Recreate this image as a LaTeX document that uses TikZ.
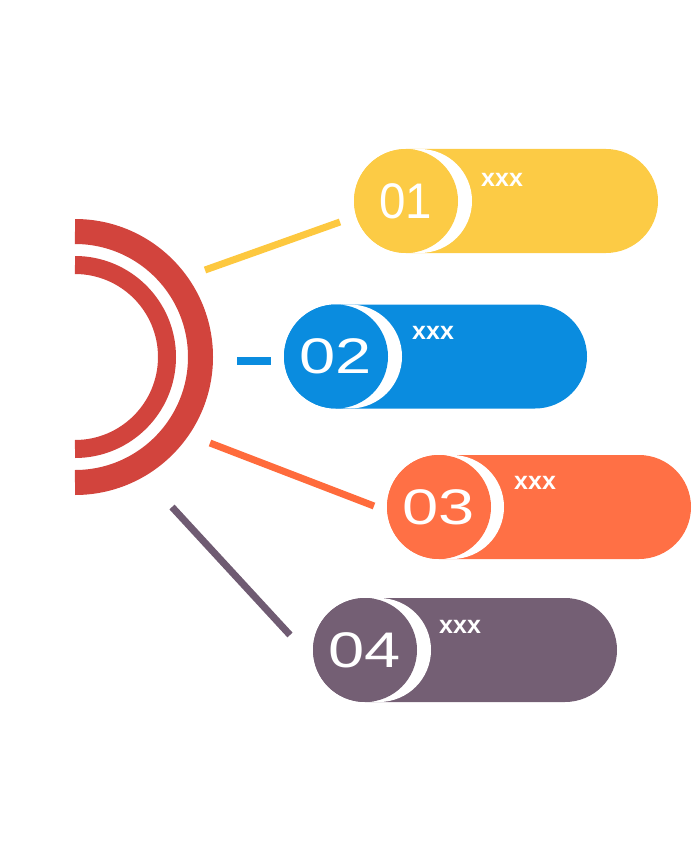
\documentclass[tikz,border=0pt]{standalone}
\usepackage{fontspec}
\setmainfont{Liberation Sans}
\definecolor{cyel}{HTML}{FCCB45}
\definecolor{cblue}{HTML}{0A8CDF}
\definecolor{corange}{HTML}{FF7045}
\definecolor{cpurple}{HTML}{745F74}
\definecolor{cred}{HTML}{D2443D}
\definecolor{lyel}{HTML}{FDC83F}
\definecolor{lorange}{HTML}{FF6B3C}
\definecolor{lpurple}{HTML}{6F5B72}
\tikzset{
  pillbody/.style={rectangle, rounded corners=52pt, minimum height=104pt, inner sep=0pt, fill=#1},
  numcircle/.style={circle, minimum size=104pt, inner sep=0pt, fill=#1, text=white,
    font=\fontsize{50}{50}\selectfont},
  crescent/.style={circle, minimum size=104pt, inner sep=0pt, fill=white},
  xlabel/.style={anchor=west, inner sep=0pt, text=white, font=\bfseries\fontsize{25}{25}\selectfont},
  connector/.style={line width=7pt, draw=#1},
}
\newcommand{\numtxt}[2][1.3]{\raisebox{-2pt}{\scalebox{#1}[1]{#2}}}
\begin{document}
\begin{tikzpicture}[x=1pt,y=-1pt]
\useasboundingbox (0,0) rectangle (700,845);
% half rings
\draw[cred, line width=25pt] (75,231.5) arc[start angle=90, end angle=-90, radius=125.5pt];
\draw[cred, line width=18pt] (75,265) arc[start angle=90, end angle=-90, radius=92pt];
% pill 1
\node[pillbody=cyel, minimum width=304pt] (b1) at (506,201) {};
\node[crescent] (w1) at (420,201) {};
\node[numcircle=cyel] (n1) at (406,201) {\numtxt[0.95]{01}};
\node[xlabel] (x1) at (481,180) {xxx};
% pill 2
\node[pillbody=cblue, minimum width=303pt] (b2) at (435.5,356.5) {};
\node[crescent] (w2) at (350,356.5) {};
\node[numcircle=cblue] (n2) at (336,356.5) {\numtxt{02}};
\node[xlabel] (x2) at (412,333) {xxx};
% pill 3
\node[pillbody=corange, minimum width=304pt] (b3) at (539,507) {};
\node[crescent] (w3) at (452,507) {};
\node[numcircle=corange] (n3) at (439,507) {\numtxt{03}};
\node[xlabel] (x3) at (514,483) {xxx};
% pill 4
\node[pillbody=cpurple, minimum width=304pt] (b4) at (465,650) {};
\node[crescent] (w4) at (379,650) {};
\node[numcircle=cpurple] (n4) at (365,650) {\numtxt{04}};
\node[xlabel] (x4) at (439,627) {xxx};
% connectors
\coordinate (y1) at (205,270);
\coordinate (y2) at (340,222);
\coordinate (bl1) at (237,361);
\coordinate (bl2) at (271,361);
\coordinate (o1) at (210,443);
\coordinate (o2) at (374,506);
\coordinate (p1) at (172,507);
\coordinate (p2) at (290,635);
\draw[connector=lyel] (y1) -- (y2);
\draw[connector=cblue, line width=8pt] (bl1) -- (bl2);
\draw[connector=lorange] (o1) -- (o2);
\draw[connector=lpurple] (p1) -- (p2);
\end{tikzpicture}
\end{document}
